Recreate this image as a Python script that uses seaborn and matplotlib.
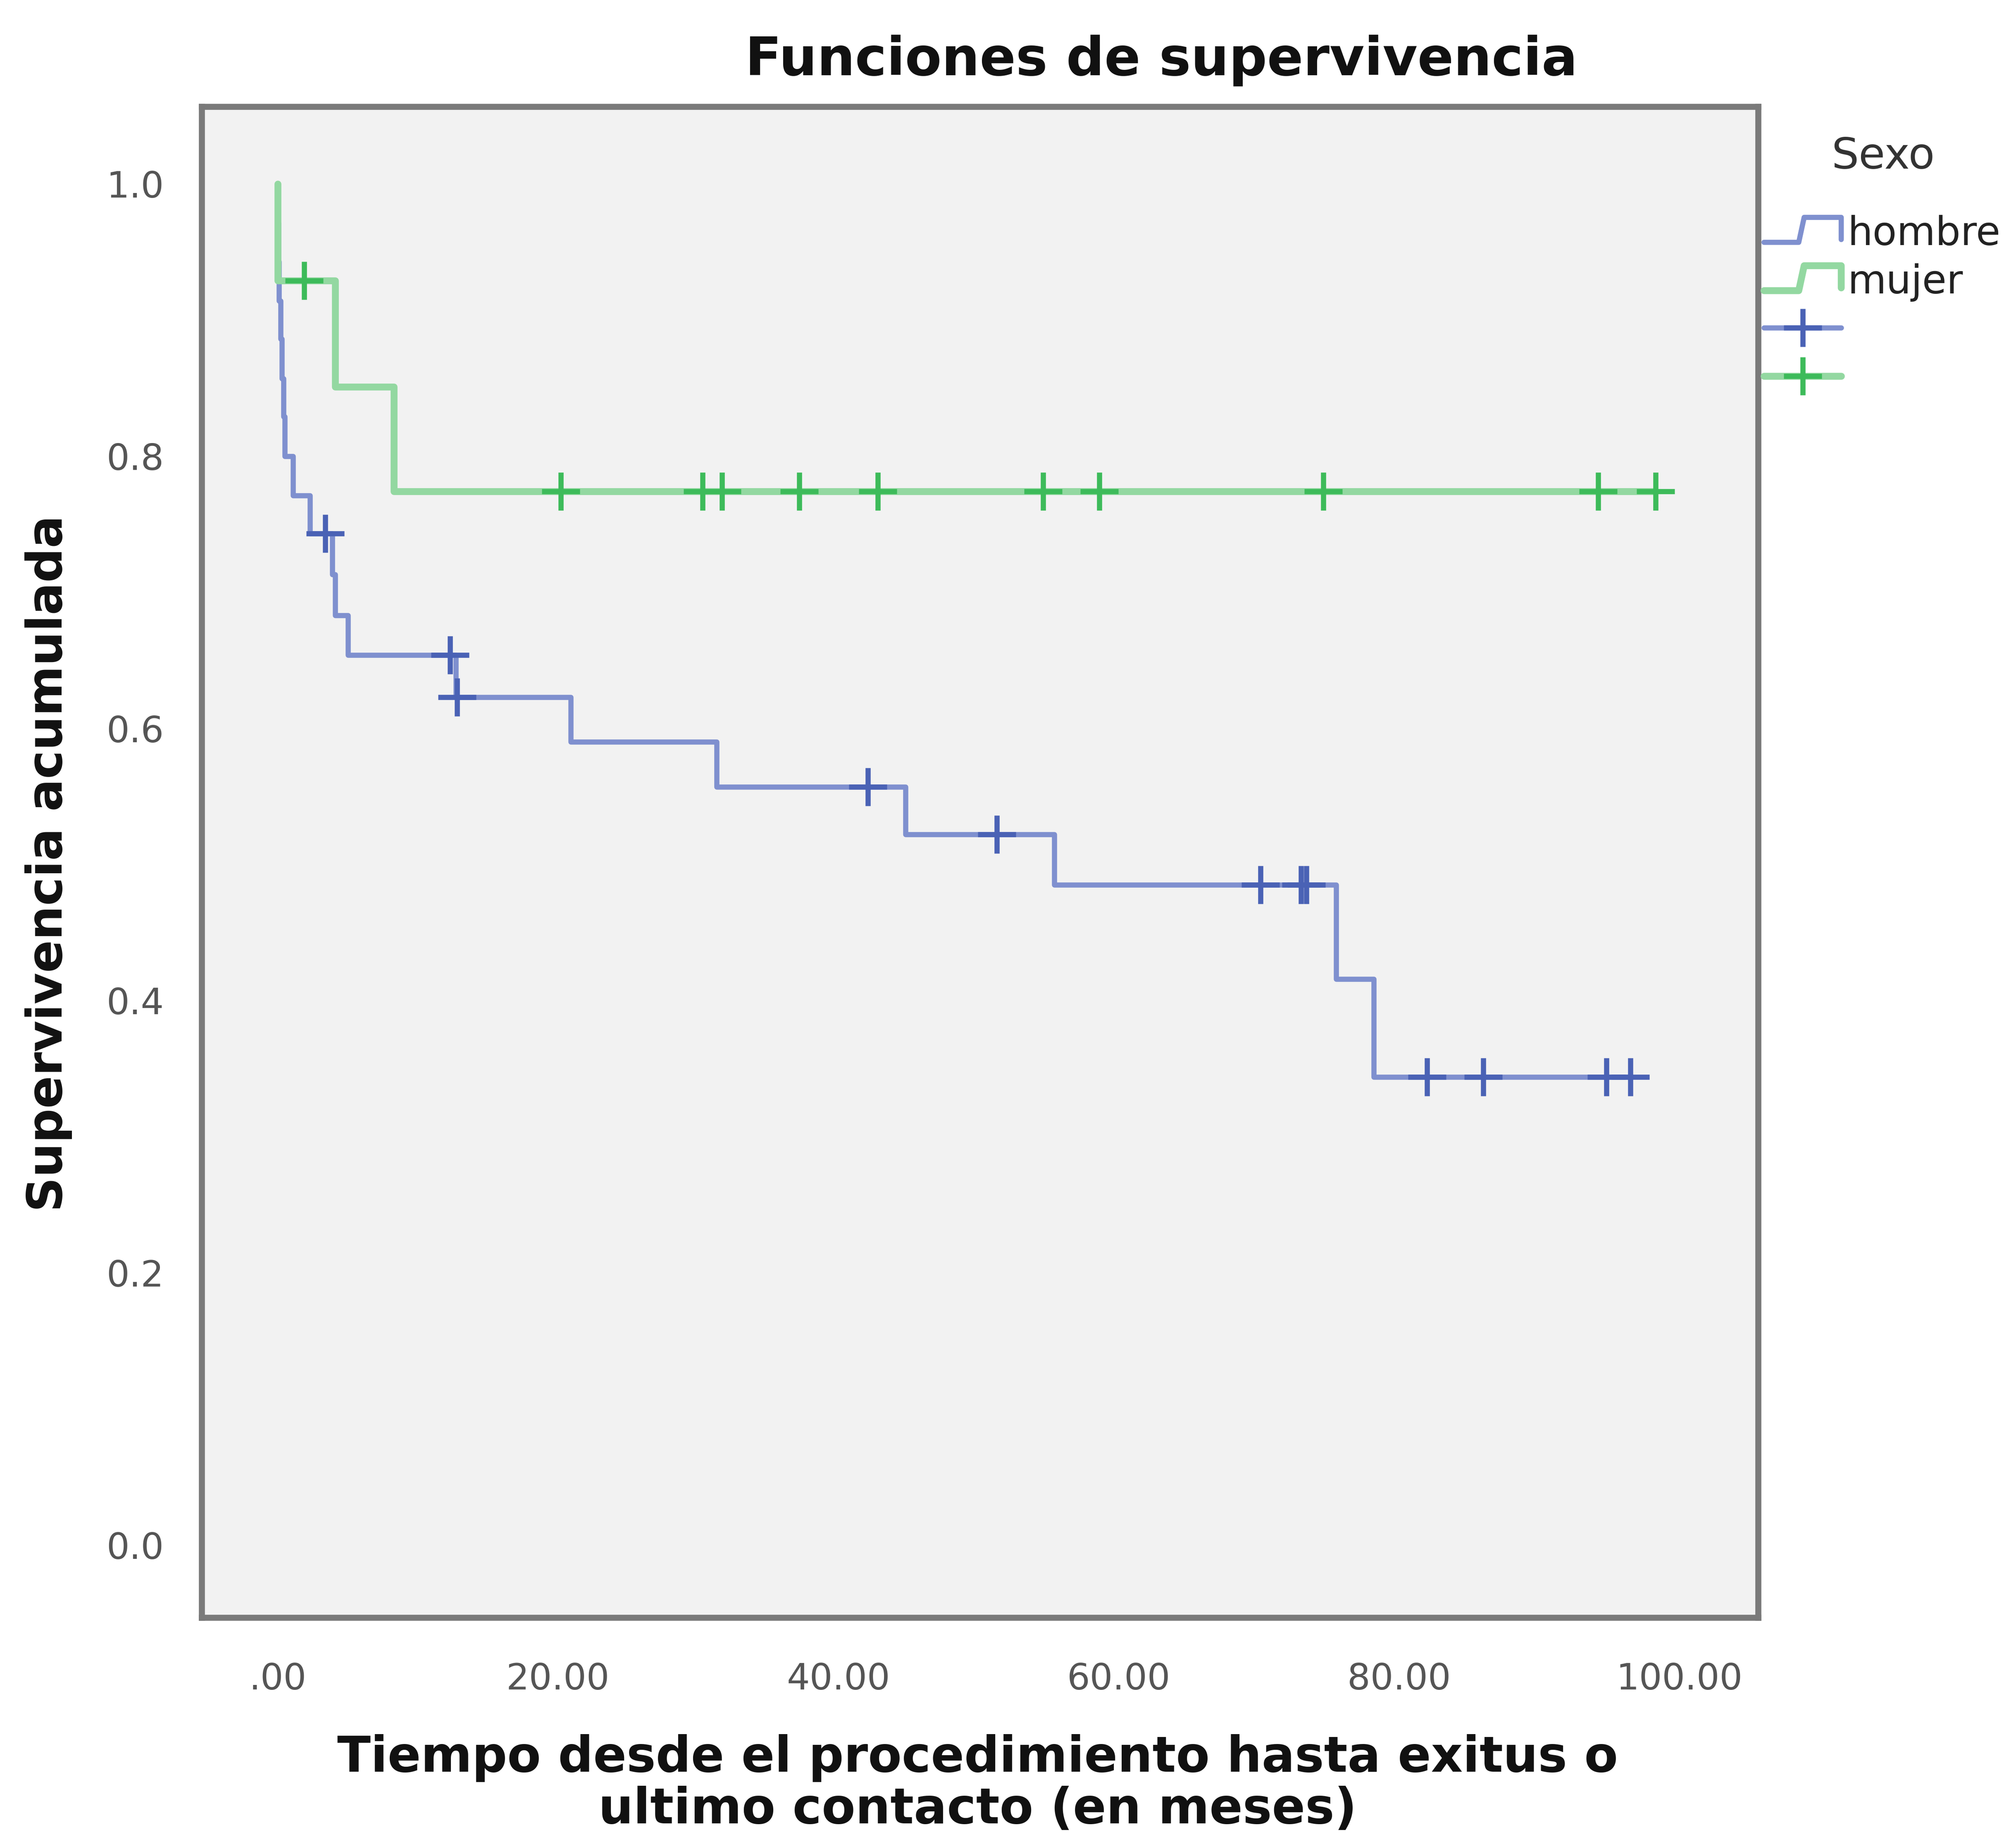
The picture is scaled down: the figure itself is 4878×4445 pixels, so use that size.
import matplotlib
matplotlib.use('Agg')
import matplotlib.pyplot as plt
import seaborn as sns
import numpy as np
import pandas as pd
from matplotlib.lines import Line2D
from matplotlib.legend_handler import HandlerBase

# Kaplan-Meier steps (months, cumulative survival)
hombre_t = [0.0, 0.0, 0.05, 0.1, 0.2, 0.3, 0.4, 0.5, 1.1, 2.3, 3.9, 4.1, 5.0,
            12.7, 20.9, 31.3, 44.8, 55.4, 75.5, 78.2, 96.6]
hombre_s = [1.0, 0.971, 0.943, 0.914, 0.886, 0.857, 0.829, 0.800, 0.771, 0.743,
            0.713, 0.683, 0.654, 0.623, 0.590, 0.557, 0.522, 0.485, 0.416, 0.344, 0.344]
hombre_cens = [3.4, 12.3, 12.8, 42.1, 51.3, 70.1, 73.0, 73.4, 82.0, 86.0, 94.8, 96.5]

mujer_t = [0.0, 0.0, 4.1, 8.3, 98.3]
mujer_s = [1.0, 0.929, 0.851, 0.774, 0.774]
mujer_cens = [1.9, 20.2, 30.3, 31.7, 37.2, 42.8, 54.6, 58.6, 74.6, 94.2, 98.3]

x_ticks = [0, 20, 40, 60, 80, 100]
x_labels = ['.00', '20.00', '40.00', '60.00', '80.00', '100.00']
y_ticks = [0.0, 0.2, 0.4, 0.6, 0.8, 1.0]

line_col = {'hombre': '#7f90cf', 'mujer': '#93d8a1'}
line_w = {'hombre': 3.0, 'mujer': 4.0}
mark_col = {'hombre': '#4a62b5', 'mujer': '#3dbb5a'}


def step_value(ts, ss, t):
    i = np.searchsorted(ts, t, side='right') - 1
    return ss[i]


curves = pd.DataFrame({
    'tiempo': hombre_t + mujer_t,
    'superv': hombre_s + mujer_s,
    'sexo': ['hombre'] * len(hombre_t) + ['mujer'] * len(mujer_t),
})
cens = pd.DataFrame({
    'tiempo': hombre_cens + mujer_cens,
    'superv': [step_value(hombre_t, hombre_s, t) for t in hombre_cens] +
              [step_value(mujer_t, mujer_s, t) for t in mujer_cens],
    'sexo': ['hombre'] * len(hombre_cens) + ['mujer'] * len(mujer_cens),
})


class StepHandler(HandlerBase):
    def create_artists(self, legend, orig_handle, xdescent, ydescent, width, height, fontsize, trans):
        xs = np.array([0.0, 0.45, 0.52, 1.0, 1.0]) * width - xdescent
        ys = np.array([0.1, 0.1, 1.0, 1.0, 0.2]) * height - ydescent
        ln = Line2D(xs, ys, color=orig_handle.get_color(), lw=orig_handle.get_linewidth(),
                    transform=trans)
        return [ln]


sns.set_style('white')
plt.rcParams['font.family'] = ['DejaVu Sans']

fig = plt.figure(figsize=(4878 / 300, 4445 / 300), dpi=300)
ax = fig.add_axes([0.100, 0.1195, 0.772, 0.8225])
ax.set_facecolor('#f2f2f2')

for sx in ['hombre', 'mujer']:
    sns.lineplot(data=curves[curves['sexo'] == sx], x='tiempo', y='superv',
                 color=line_col[sx], estimator=None, sort=False,
                 drawstyle='steps-post', lw=line_w[sx], legend=False, ax=ax)
for sx in ['hombre', 'mujer']:
    sub = cens[cens['sexo'] == sx]
    ax.plot(sub['tiempo'], sub['superv'], linestyle='none', marker='+',
            markersize=22, mew=3.0, color=mark_col[sx])

ax.set_xlim(-5.43, 105.6)
ax.set_ylim(-0.0531, 1.0568)
ax.set_xticks(x_ticks)
ax.set_xticklabels(x_labels)
ax.set_yticks(y_ticks)
ax.set_yticklabels(['%.1f' % v for v in y_ticks])
ax.tick_params(direction='out', length=16, width=2.5, color='#666666',
               labelsize=21, labelcolor='#555555')
ax.tick_params(axis='y', pad=6)
ax.tick_params(axis='x', pad=10)
for sp in ax.spines.values():
    sp.set_color('#7a7a7a')
    sp.set_linewidth(3.5)
ax.set_xlabel('')
ax.set_ylabel('')

fig.text(0.576, 0.967, 'Funciones de supervivencia', ha='center', va='center',
         fontsize=31, fontweight='bold', color='#111111')
fig.text(0.024, 0.530, 'Supervivencia acumulada', ha='center', va='center',
         rotation=90, fontsize=28, fontweight='bold', color='#111111')
fig.text(0.485, 0.0290, 'Tiempo desde el procedimiento hasta exitus o\nultimo contacto (en meses)',
         ha='center', va='center', fontsize=28.5, fontweight='bold', color='#111111',
         linespacing=1.1)

fig.text(0.934, 0.9146, 'Sexo', ha='center', va='center', fontsize=25, color='#333333')

h1 = Line2D([], [], color=line_col['hombre'], lw=line_w['hombre'])
h2 = Line2D([], [], color=line_col['mujer'], lw=line_w['mujer'])
h3 = Line2D([], [], color=line_col['hombre'], lw=line_w['hombre'], marker='+',
            markersize=22, mew=3.0, markeredgecolor=mark_col['hombre'])
h4 = Line2D([], [], color=line_col['mujer'], lw=line_w['mujer'], marker='+',
            markersize=22, mew=3.0, markeredgecolor=mark_col['mujer'])
leg = fig.legend([h1, h2, h3, h4], ['hombre', 'mujer', '', ''],
                 loc='upper left', bbox_to_anchor=(0.875, 0.883), frameon=False,
                 fontsize=23, handlelength=1.95, handletextpad=0.16,
                 labelspacing=0.25, borderaxespad=0, borderpad=0,
                 handler_map={h1: StepHandler(), h2: StepHandler()})
for t in leg.get_texts():
    t.set_color('#222222')

fig.savefig('out.png', dpi=300, facecolor='white')
